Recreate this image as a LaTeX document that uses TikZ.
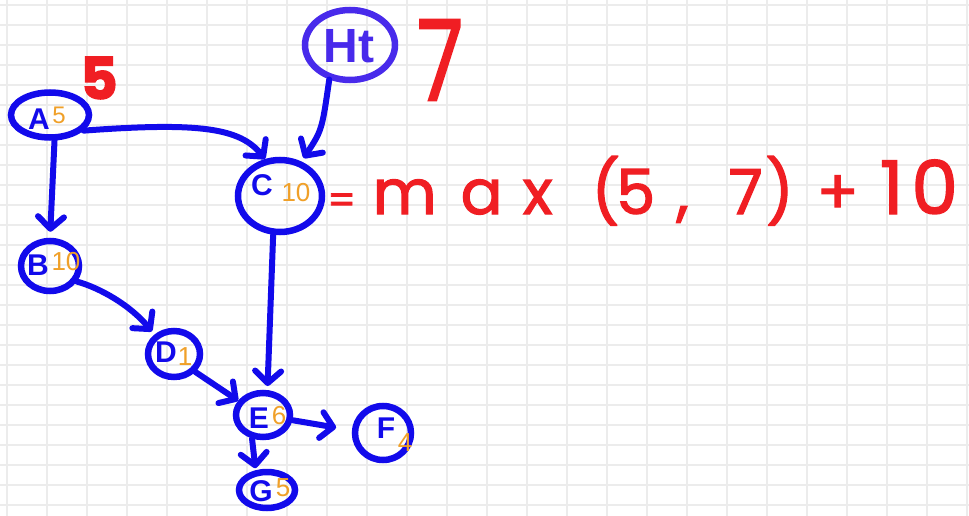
\documentclass[tikz,border=0pt]{standalone}
\usepackage{fontspec}
\setmainfont{Liberation Sans}
\newfontfamily\hand[FakeBold=2]{Poppins}
\usetikzlibrary{shapes.geometric,arrows.meta}
\definecolor{inkblue}{RGB}{18,10,235}
\definecolor{inkviolet}{RGB}{72,42,235}
\definecolor{inkred}{RGB}{240,30,35}
\definecolor{inkorange}{RGB}{240,160,40}
\definecolor{gridgray}{RGB}{236,236,236}
\newcommand\gly[2]{\rlap{\hspace{#1pt}\makebox[0pt]{#2}}}
\begin{document}
\begin{tikzpicture}[x=1pt,y=-1pt,
  blob/.style={draw=inkblue, line width=6.5pt, ellipse, inner sep=0pt},
  lettr/.style={text=inkblue, font=\bfseries\fontsize{30}{30}\selectfont, inner sep=0pt},
  numr/.style={text=inkorange, font=\fontsize{26}{26}\selectfont, inner sep=0pt},
  redtxt/.style={text=inkred, inner sep=0pt},
  edge/.style={draw=inkblue, line width=6pt, line cap=round, line join=round,
    -{Straight Barb[length=12pt,width=26pt,line cap=round,line join=round]}},
  gridline/.style={draw=gridgray, line width=1.5pt}
]
\useasboundingbox (0,0) rectangle (969,516);
\fill[white] (0,0) rectangle (969,516);
\foreach \x in {7,47,...,967} \draw[gridline] (\x,0) -- (\x,516);
\foreach \y in {5,25,...,505} \draw[gridline] (0,\y) -- (969,\y);

% blobs
\node[blob, minimum width=78pt, minimum height=45pt] (A) at (50,115) {};
\node[blob, minimum width=58pt, minimum height=50pt] (B) at (50,266) {};
\node[blob, minimum width=84pt, minimum height=72pt] (C) at (280,196) {};
\node[blob, minimum width=52pt, minimum height=46pt] (D) at (174,354) {};
\node[blob, minimum width=54pt, minimum height=44pt] (E) at (263,415) {};
\node[blob, minimum width=56pt, minimum height=54pt] (F) at (383,433) {};
\node[blob, minimum width=56pt, minimum height=36pt] (G) at (267,490) {};
\node[blob, draw=inkviolet, minimum width=90pt, minimum height=70pt] (T) at (350,45) {};

% letters
\node[lettr] (Al) at (39,119) {A};
\node[lettr] (Bl) at (38,265) {B};
\node[lettr] (Cl) at (262,185) {C};
\node[lettr] (Dl) at (166,352) {D};
\node[lettr] (El) at (259,418) {E};
\node[lettr] (Fl) at (386,428) {F};
\node[lettr] (Gl) at (261,491) {G};
\node[lettr, text=inkviolet, font=\bfseries\fontsize{48}{48}\selectfont] (Tl) at (349,46) {Ht};

% numbers
\node[numr, font=\fontsize{24}{24}\selectfont] (An) at (59,115) {5};
\node[numr] (Bn) at (66,262) {10};
\node[numr] (Cn) at (296,193) {10};
\node[numr] (Dn) at (185,357) {1};
\node[numr] (En) at (279,416) {6};
\node[numr] (Fn) at (405,443) {4};
\node[numr] (Gn) at (283,488) {5};

% red annotations
\node[redtxt, font=\hand\bfseries\fontsize{58}{58}\selectfont] (r5) at (99,78) {5};
\node[redtxt, font=\hand\fontsize{112}{112}\selectfont, xscale=0.75] (r7) at (440,60) {7};
\node[redtxt, anchor=base west, font=\hand\fontsize{62}{62}\selectfont] (rf) at (330,214)
  {\gly{11}{\fontsize{40}{40}\selectfont=}\gly{74}{m}\gly{151}{a}\gly{207}{x}\gly{275}{(}\gly{305}{5}\gly{352}{,}\gly{415}{7}\gly{449}{)}\gly{507}{+}\gly{561}{\fontsize{74}{74}\selectfont 1}\gly{604}{\fontsize{74}{74}\selectfont 0}\hspace{635pt}};

% connectors
\draw[edge] (A.-25) .. controls (200,122) and (240,128) .. (C.112);
\draw[edge, shorten >=6pt] (A.-80) -- (B.north);
\draw[edge, shorten >=4pt] (B.-30) .. controls (100,288) and (130,305) .. (D.135);
\draw[edge] (D.-40) -- (E.150);
\draw[edge, shorten >=4pt] (T.-121) .. controls (322,130) .. (C.58);
\draw[edge, shorten >=4pt] (C.-100) -- (E.80);
\draw[edge, shorten >=16pt] (E.-10) -- (F.175);
\draw[edge, shorten >=2pt] (E.-115) -- (G.120);
\end{tikzpicture}
\end{document}
